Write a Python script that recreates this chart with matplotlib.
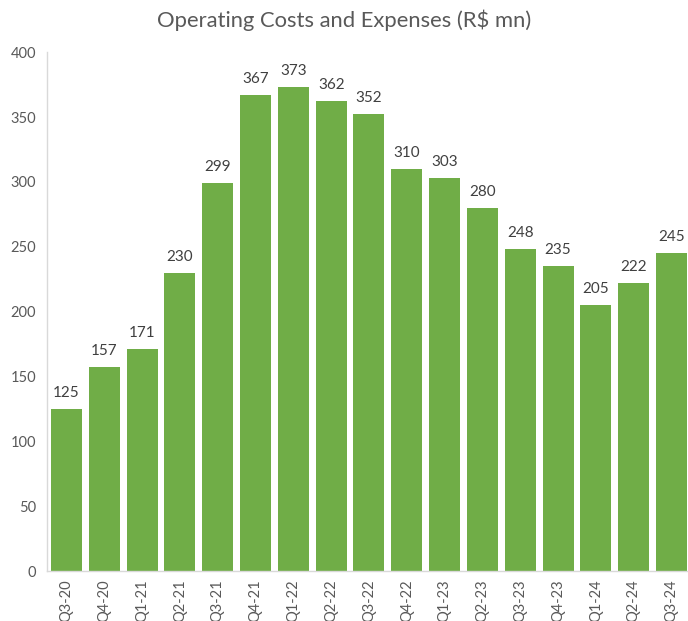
import matplotlib
matplotlib.use("Agg")
import matplotlib.pyplot as plt

quarters = ["Q3-20", "Q4-20", "Q1-21", "Q2-21", "Q3-21", "Q4-21", "Q1-22", "Q2-22", "Q3-22",
            "Q4-22", "Q1-23", "Q2-23", "Q3-23", "Q4-23", "Q1-24", "Q2-24", "Q3-24"]
costs = [125, 157, 171, 230, 299, 367, 373, 362, 352, 310, 303, 280, 248, 235, 205, 222, 245]

plt.rcParams['font.family'] = ['Lato', 'DejaVu Sans']
fig = plt.figure(figsize=(6.88, 6.21), dpi=100)
ax = fig.add_axes([0.0683, 0.0805, 0.9317, 0.8355])

x = list(range(len(quarters)))
ax.bar(x, costs, width=0.82, color="#70AD47")
for xi, v in zip(x, costs):
    ax.text(xi, v + 7, str(v), ha="center", va="bottom", fontsize=11, color="#404040")

ax.set_xlim(-0.516, len(quarters) - 1 + 0.437)
ax.set_ylim(0, 400)
ax.set_yticks(range(0, 401, 50))
ax.set_xticks(x)
ax.set_xticklabels(quarters, rotation=90, fontsize=10.5, color="#595959")
ax.tick_params(axis="y", labelsize=10.5, labelcolor="#595959", length=0, pad=8)
ax.tick_params(axis="x", length=0, pad=6)
for s in ["top", "right"]:
    ax.spines[s].set_visible(False)
for s in ["left", "bottom"]:
    ax.spines[s].set_color("#D9D9D9")
    ax.spines[s].set_linewidth(1)

fig.suptitle("Operating Costs and Expenses (R$ mn)", y=0.985, fontsize=15.8, color="#595959")
fig.savefig("out.png", dpi=100)
